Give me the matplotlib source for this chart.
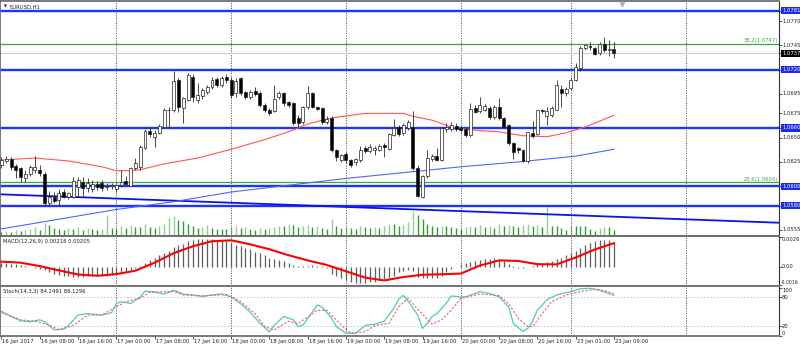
import matplotlib

matplotlib.use("Agg")
import matplotlib.pyplot as plt
import numpy as np
from matplotlib.transforms import blended_transform_factory

plt.rcParams["font.family"] = ["DejaVu Sans"]
FS = 3.8
W, H = 800, 349

# EURUSD H1, 16 Jan 2017 00:00 .. 23 Jan 2017 09:00
opens = [
    1.0622, 1.0626, 1.0628, 1.0621, 1.0619, 1.0608, 1.0613, 1.0617, 1.0617, 1.0613,
    1.0583, 1.0589, 1.0586, 1.0594, 1.0589, 1.0589, 1.0599, 1.0604, 1.0598, 1.0597,
    1.0602, 1.0603, 1.0599, 1.0600, 1.0597, 1.0601, 1.0605, 1.0600, 1.0619, 1.0620,
    1.0639, 1.0657, 1.0651, 1.0655, 1.0661, 1.0678, 1.0678, 1.0709, 1.0681, 1.0689,
    1.0713, 1.0689, 1.0693, 1.0697, 1.0702, 1.0710, 1.0704, 1.0713, 1.0709, 1.0696,
    1.0711, 1.0697, 1.0692, 1.0698, 1.0696, 1.0684, 1.0679, 1.0677, 1.0692, 1.0696,
    1.0687, 1.0686, 1.0670, 1.0666, 1.0682, 1.0696, 1.0682, 1.0681, 1.0666, 1.0670,
    1.0637, 1.0627, 1.0633, 1.0627, 1.0625, 1.0627, 1.0639, 1.0636, 1.0637, 1.0637,
    1.0642, 1.0638, 1.0653, 1.0661, 1.0655, 1.0660, 1.0661, 1.0619, 1.0589, 1.0610,
    1.0628, 1.0631, 1.0627, 1.0659, 1.0659, 1.0662, 1.0660, 1.0659, 1.0653, 1.0681,
    1.0677, 1.0678, 1.0681, 1.0671, 1.0682, 1.0670, 1.0663, 1.0644, 1.0639, 1.0637,
    1.0626, 1.0655, 1.0654, 1.0679, 1.0672, 1.0673, 1.0679, 1.0700, 1.0696, 1.0701,
    1.0709, 1.0722, 1.0742, 1.0744, 1.0742, 1.0737, 1.0747, 1.0740, 1.0741,
]
highs = [
    1.0630, 1.0631, 1.0630, 1.0623, 1.0620, 1.0617, 1.0622, 1.0631, 1.0622, 1.0615,
    1.0595, 1.0594, 1.0597, 1.0597, 1.0594, 1.0609, 1.0609, 1.0609, 1.0608, 1.0606,
    1.0605, 1.0606, 1.0603, 1.0603, 1.0602, 1.0617, 1.0611, 1.0620, 1.0629, 1.0642,
    1.0659, 1.0661, 1.0658, 1.0664, 1.0681, 1.0682, 1.0719, 1.0711, 1.0692, 1.0717,
    1.0716, 1.0706, 1.0701, 1.0704, 1.0712, 1.0712, 1.0714, 1.0716, 1.0712, 1.0711,
    1.0712, 1.0698, 1.0699, 1.0702, 1.0698, 1.0686, 1.0681, 1.0704, 1.0698, 1.0697,
    1.0688, 1.0687, 1.0673, 1.0683, 1.0703, 1.0697, 1.0683, 1.0682, 1.0672, 1.0672,
    1.0638, 1.0633, 1.0635, 1.0628, 1.0629, 1.0641, 1.0641, 1.0643, 1.0641, 1.0643,
    1.0645, 1.0655, 1.0669, 1.0663, 1.0665, 1.0668, 1.0677, 1.0622, 1.0612, 1.0637,
    1.0633, 1.0639, 1.0661, 1.0665, 1.0666, 1.0665, 1.0662, 1.0660, 1.0686, 1.0684,
    1.0692, 1.0685, 1.0683, 1.0684, 1.0691, 1.0671, 1.0664, 1.0646, 1.0640, 1.0638,
    1.0656, 1.0667, 1.0679, 1.0680, 1.0682, 1.0683, 1.0709, 1.0704, 1.0702, 1.0711,
    1.0727, 1.0744, 1.0747, 1.0749, 1.0743, 1.0749, 1.0754, 1.0751, 1.0749,
]
lows = [
    1.0619, 1.0624, 1.0617, 1.0608, 1.0604, 1.0604, 1.0611, 1.0614, 1.0611, 1.0580,
    1.0580, 1.0583, 1.0580, 1.0588, 1.0587, 1.0588, 1.0589, 1.0589, 1.0594, 1.0594,
    1.0596, 1.0595, 1.0596, 1.0597, 1.0594, 1.0599, 1.0602, 1.0600, 1.0617, 1.0617,
    1.0638, 1.0651, 1.0640, 1.0654, 1.0660, 1.0660, 1.0676, 1.0676, 1.0665, 1.0688,
    1.0687, 1.0686, 1.0690, 1.0695, 1.0700, 1.0702, 1.0702, 1.0706, 1.0691, 1.0692,
    1.0694, 1.0690, 1.0690, 1.0693, 1.0682, 1.0676, 1.0673, 1.0676, 1.0690, 1.0683,
    1.0682, 1.0663, 1.0660, 1.0664, 1.0680, 1.0681, 1.0679, 1.0664, 1.0664, 1.0635,
    1.0626, 1.0625, 1.0624, 1.0620, 1.0622, 1.0625, 1.0634, 1.0634, 1.0632, 1.0636,
    1.0630, 1.0637, 1.0652, 1.0652, 1.0653, 1.0658, 1.0617, 1.0589, 1.0588, 1.0608,
    1.0626, 1.0626, 1.0626, 1.0656, 1.0657, 1.0657, 1.0656, 1.0651, 1.0651, 1.0675,
    1.0675, 1.0677, 1.0669, 1.0669, 1.0668, 1.0660, 1.0642, 1.0628, 1.0634, 1.0625,
    1.0624, 1.0650, 1.0653, 1.0675, 1.0663, 1.0671, 1.0678, 1.0682, 1.0693, 1.0699,
    1.0708, 1.0719, 1.0740, 1.0740, 1.0735, 1.0735, 1.0738, 1.0734, 1.0732,
]
closes = [
    1.0627, 1.0628, 1.0620, 1.0617, 1.0609, 1.0613, 1.0620, 1.0620, 1.0614, 1.0583,
    1.0589, 1.0585, 1.0593, 1.0589, 1.0593, 1.0605, 1.0606, 1.0598, 1.0603, 1.0602,
    1.0599, 1.0598, 1.0600, 1.0601, 1.0601, 1.0604, 1.0602, 1.0619, 1.0624, 1.0640,
    1.0657, 1.0654, 1.0655, 1.0662, 1.0678, 1.0679, 1.0708, 1.0682, 1.0691, 1.0715,
    1.0692, 1.0694, 1.0699, 1.0702, 1.0709, 1.0704, 1.0711, 1.0709, 1.0694, 1.0708,
    1.0696, 1.0692, 1.0697, 1.0695, 1.0684, 1.0678, 1.0675, 1.0690, 1.0696, 1.0686,
    1.0684, 1.0665, 1.0665, 1.0682, 1.0696, 1.0682, 1.0680, 1.0666, 1.0669, 1.0637,
    1.0630, 1.0632, 1.0627, 1.0622, 1.0628, 1.0637, 1.0636, 1.0640, 1.0639, 1.0641,
    1.0640, 1.0654, 1.0660, 1.0654, 1.0663, 1.0666, 1.0619, 1.0590, 1.0610, 1.0629,
    1.0631, 1.0627, 1.0660, 1.0661, 1.0663, 1.0659, 1.0658, 1.0653, 1.0680, 1.0676,
    1.0684, 1.0683, 1.0671, 1.0682, 1.0670, 1.0661, 1.0644, 1.0635, 1.0637, 1.0626,
    1.0656, 1.0652, 1.0678, 1.0677, 1.0677, 1.0681, 1.0704, 1.0696, 1.0700, 1.0709,
    1.0723, 1.0742, 1.0745, 1.0743, 1.0736, 1.0747, 1.0740, 1.0741, 1.0737,
]
volumes = [
    240, 300, 240, 360, 300, 360, 420, 540, 360, 780, 660, 480, 420, 360, 480, 420,
    540, 360, 480, 420, 360, 420, 1260, 480,
    420, 600, 480, 660, 540, 540, 720, 540, 480, 600, 720, 1080, 1200, 960, 900, 720,
    600, 480, 540, 660, 480, 420, 420, 420,
    540, 600, 480, 540, 420, 360, 480, 420, 480, 540, 600, 600, 720, 660, 540, 600,
    660, 540, 600, 480, 420, 1020, 600, 480,
    540, 480, 420, 600, 540, 480, 540, 480, 600, 720, 720, 600, 660, 840, 1500, 1260,
    1020, 720, 600, 540, 600, 600, 540, 480,
    420, 540, 600, 540, 660, 540, 600, 480, 720, 600, 660, 600, 540, 660, 720, 600,
    660, 540, 1740, 600, 600, 480, 360,
    600, 600, 600, 600, 420, 300, 480, 540, 540, 360,
]

# moving averages on price (vertices at bar index)
ma_red_bars = [0, 7, 14, 21, 24, 27, 29, 34, 41, 48, 55, 60, 64, 67, 70, 76, 84, 86,
               90, 94, 98, 104, 109, 114, 118, 122, 128]
ma_red = [1.0627, 1.0629, 1.0626, 1.0620, 1.0616, 1.0616, 1.0617, 1.0623, 1.0629,
          1.0638, 1.0648, 1.0656, 1.0664, 1.0668, 1.0671, 1.0675, 1.0675, 1.0672,
          1.0668, 1.0661, 1.0658, 1.0656, 1.0652, 1.0651, 1.0655, 1.0661, 1.0673]
ma_blue_bars = [0, 12, 24, 36, 48, 60, 72, 84, 96, 108, 120, 128]
ma_blue = [1.0556, 1.0566, 1.0576, 1.0584, 1.0594, 1.0601, 1.0608, 1.0614, 1.0620,
           1.0625, 1.0631, 1.0638]

# drawn objects
levels = [1.0781, 1.0720, 1.0660, 1.0600, 1.0580]
fib_levels = [1.0747, 1.0604]
fib_names = ["38.2", "23.6"]
bid = 1.0737
trend_bars = [0, 160]
trend_prices = [1.05916, 1.05628]
price_ticks = [1.0770, 1.0745, 1.0695, 1.0675, 1.0650, 1.0625, 1.0555]

macd_hist = [
    0.0003, 0.00028, 0.00025, 0.0002, 0.00012, 0.00005, -0.00002, -0.0001,
    -0.0002, -0.0003, -0.00045, -0.0006, -0.0007, -0.0008, -0.00085,
    -0.0009, -0.0009, -0.00088, -0.00085, -0.00085, -0.00083, -0.0008, -0.00078, -0.0007,
    -0.0006, -0.0005, -0.0004, -0.0003, -0.00015, 0.00005,
    0.0003, 0.0006, 0.0008, 0.0010, 0.0012, 0.0014, 0.0017, 0.0019, 0.0020, 0.0022,
    0.0023, 0.0024, 0.0024, 0.0024, 0.0024, 0.0023, 0.0023, 0.0022,
    0.0021, 0.0019, 0.0018, 0.0016, 0.0015, 0.0013, 0.0012, 0.0010, 0.0008, 0.0007,
    0.0006, 0.0005, 0.0003, 0.00015,
    0.0001, 0.0001, 0.0001, 0.00012, 0.0001, 0.00005, -0.0001,
    -0.0006, -0.0008, -0.001, -0.0012, -0.0013, -0.0014, -0.0014, -0.0014, -0.0013,
    -0.0013, -0.0012, -0.0011, -0.001, -0.0008, -0.0005,
    -0.0004, -0.0003, -0.0004,
    -0.0009, -0.001, -0.001, -0.001, -0.001, -0.0008, -0.0005, -0.0002, 0.0,
    0.0002, 0.0003, 0.0004, 0.0005, 0.0006, 0.0007, 0.0007, 0.0008, 0.0007, 0.0005,
    0.0002, 0.0001, -0.0001, -0.0001, 0.0, 0.0001, 0.0002,
    0.0003, 0.0004, 0.0005, 0.0007, 0.0008, 0.0010, 0.0012, 0.0014, 0.0016, 0.0019,
    0.0021, 0.0022, 0.0023, 0.0023, 0.0023, 0.00218,
]
macd_sig_bars = list(range(0, 129, 4))
macd_sig = [0.00044, 0.00035, 0.00005, -0.00032, -0.00068, -0.00079, -0.00065,
            -0.00035, 0.00035, 0.00118, 0.00178, 0.00222, 0.0023, 0.00195, 0.00152,
            0.001, 0.00055, 0.00015, -0.0004, -0.00095, -0.0012, -0.0009, -0.0007,
            -0.00066, -0.0006, 0.0001, 0.00055, 0.0005, 0.00022, 0.0002, 0.0008,
            0.0015, 0.00205]

stoch_k_bars = [0, 2, 4, 6, 8, 9, 11, 13, 14, 16, 18, 21, 23, 24, 25, 27, 29, 30, 32,
                34, 36, 38, 40, 42, 44, 46, 48, 50, 52, 54, 56, 57, 59, 61, 62, 63,
                64, 66, 67, 69, 70, 72, 74, 76, 78, 80, 82, 83, 84, 85, 87, 88, 89,
                90, 91, 93, 94, 96, 97, 100, 102, 104, 106, 107, 109, 110, 111, 112,
                114, 116, 119, 121, 123, 125, 128]
stoch_k = [51, 40, 31, 29, 33, 29, 12, 14, 21, 43, 46, 43, 48, 67, 71, 67, 81, 93, 91,
           87, 95, 87, 85, 82, 85, 87, 81, 67, 49, 26, 8, 22, 40, 33, 19, 22, 36, 64,
           60, 36, 19, 5, 5, 21, 24, 30, 57, 76, 84, 72, 43, 15, 26, 40, 46, 68, 83,
           81, 81, 92, 88, 81, 60, 25, 9, 15, 30, 53, 75, 85, 92, 98, 99, 95, 84.2491]
stoch_d_bars = [0, 4, 7, 10, 12, 15, 18, 21, 23, 26, 29, 31, 36, 38, 42, 47, 50, 53,
                55, 57, 60, 62, 66, 68, 71, 73, 76, 78, 81, 83, 85, 87, 90, 92, 94,
                96, 100, 104, 106, 108, 110, 111, 113, 115, 118, 121, 124, 126, 128]
stoch_d = [48, 33, 30, 22, 12, 21, 43, 43, 55, 71, 78, 91, 92, 85, 83, 86, 71, 46, 19,
           12, 30, 25, 53, 53, 22, 5, 8, 21, 26, 60, 78, 55, 24, 33, 53, 78, 87, 84,
           67, 36, 19, 19, 46, 71, 85, 92, 97, 94, 88.1296]

time_bars = list(range(0, 129, 8))
time_labels = ["16 Jan 2017", "16 Jan 08:00", "16 Jan 16:00", "17 Jan 00:00",
               "17 Jan 08:00", "17 Jan 16:00", "18 Jan 00:00", "18 Jan 08:00",
               "18 Jan 16:00", "19 Jan 00:00", "19 Jan 08:00", "19 Jan 16:00",
               "20 Jan 00:00", "20 Jan 08:00", "20 Jan 16:00", "23 Jan 01:00",
               "23 Jan 09:00"]
day_bars = [24, 48, 72, 96, 119, 143]

BLUE = "#1f33ff"
GREEN = "#3daa3d"
FRAME = "#6e6e6e"
XMIN, XMAX = -0.305, 162.5
PLOT_W = 779 / W


def rect(top_px, bottom_px):
    return [0.0, 1 - bottom_px / H, PLOT_W, (bottom_px - top_px) / H]


def style_axes(ax):
    ax.set_xlim(XMIN, XMAX)
    ax.set_xticks([])
    for side in ("left", "top", "bottom"):
        ax.spines[side].set_color(FRAME)
        ax.spines[side].set_linewidth(1.3)
    ax.spines["right"].set_color("#333333")
    ax.spines["right"].set_linewidth(0.8)
    for b in day_bars:
        ax.axvline(b, color="#4a4a4a", lw=0.6, ls=(0, (1.5, 1.5)), zorder=1)


def right_label(ax, value, text, box=None, va="center", size=FS, left=782):
    tr = blended_transform_factory(fig.transFigure, ax.transData)
    kw = dict(transform=tr, fontsize=size, va=va, ha="left", clip_on=False,
              color="#222222")
    if box is not None:
        kw["color"] = "white"
        kw["bbox"] = dict(boxstyle="square,pad=0.22", fc=box, ec="none")
    ax.text(left / W, value, text, **kw)


fig = plt.figure(figsize=(W / 100, H / 100), dpi=100)
fig.patch.set_facecolor("white")

# ---- price panel
ax = fig.add_axes(rect(1, 235.5))
vax = ax.twinx()
ax.set_zorder(2)
vax.set_zorder(1)
ax.patch.set_visible(False)
vax.set_ylim(0, 234.5 * 60)
vax.set_axis_off()
x = np.arange(len(closes))
vcolors = ["#92cf92" if i > 0 and volumes[i] > volumes[i - 1] else "#2f9a2f"
           for i in range(len(volumes))]
vax.vlines(x, 0, volumes, colors=vcolors, lw=1.0)
vax.set_xlim(XMIN, XMAX)

style_axes(ax)
ax.set_ylim(1.05492, 1.07908)
ax.yaxis.tick_right()
ax.set_yticks(price_ticks + levels + [bid])
ax.set_yticklabels([])
ax.tick_params(axis="y", length=2, width=0.6, color="#333333")

for lv in levels:
    ax.axhline(lv, color=BLUE, lw=1.7, zorder=2)
for lv in fib_levels:
    ax.axhline(lv, color=GREEN, lw=0.9, zorder=2)
ax.axhline(bid, color="#cccccc", lw=0.8, zorder=1.5)
ax.axline((trend_bars[0], trend_prices[0]), (trend_bars[1], trend_prices[1]),
          color="#0a14e6", lw=1.3, zorder=2)
ax.plot(ma_red_bars, ma_red, color="#ff5555", lw=0.8, zorder=2.5)
ax.plot(ma_blue_bars, ma_blue, color="#5064ff", lw=0.8, zorder=2.5)

o = np.array(opens)
c = np.array(closes)
ax.vlines(x, lows, highs, color="#2a2a2a", lw=0.6, zorder=3)
bottoms = np.minimum(o, c)
heights = np.maximum(np.abs(c - o), 0.00003)
fills = ["white" if cc >= oo else "black" for oo, cc in zip(opens, closes)]
ax.bar(x, heights, bottom=bottoms, width=0.62, color=fills, edgecolor="#222222",
       linewidth=0.5, zorder=4)

for lv, name in zip(fib_levels, fib_names):
    ax.text(0.9985, lv + 0.00004, f"{name}({lv:.4f})", color=GREEN, fontsize=FS,
            ha="right", va="bottom", transform=blended_transform_factory(
                ax.transAxes, ax.transData))
for p in price_ticks:
    right_label(ax, p, f"{p:.4f}")
for lv in levels:
    right_label(ax, lv, f"{lv:.4f}", box="#1a2cf0")
right_label(ax, bid, f"{bid:.4f}", box="black")

ax.text(5 / 779, 1 - 5 / 234.5, "\u25bc", transform=ax.transAxes, fontsize=2.8,
        va="center", ha="center", color="#222222")
ax.text(10 / 779, 1 - 6 / 234.5, "EURUSD,H1", transform=ax.transAxes, fontsize=FS,
        va="center", ha="left", color="#222222")
ax.plot([622 / 779], [1 - 3 / 234.5], marker="v", ms=3, color="#b0b0b0",
        transform=ax.transAxes, clip_on=False, zorder=6)

# ---- MACD panel
ax2 = fig.add_axes(rect(235.5, 285.5))
style_axes(ax2)
ax2.set_ylim(-0.00164, 0.00272)
ax2.set_yticks([0.0026, 0.0, -0.0016])
ax2.yaxis.tick_right()
ax2.set_yticklabels([])
ax2.tick_params(axis="y", length=2, width=0.6, color="#333333")
ax2.vlines(x, 0, macd_hist, color="#5e5e5e", lw=0.9, zorder=2)
ax2.plot(macd_sig_bars, macd_sig, color="#ff0000", lw=1.5, zorder=3)
ax2.text(3 / 779, 0.93, "MACD(12,26,9) 0.00218 0.00205", transform=ax2.transAxes,
         fontsize=FS, va="top", ha="left", color="#222222")
right_label(ax2, 0.0026, "0.0026", va="top")
right_label(ax2, 0.0, "0.00")
right_label(ax2, -0.0016, "-0.0016", va="bottom", size=3.3, left=780.5)

# ---- Stochastic panel
ax3 = fig.add_axes(rect(285.5, 336))
style_axes(ax3)
ax3.set_ylim(-0.8, 104.8)
ax3.set_yticks([100, 80, 20, 0])
ax3.yaxis.tick_right()
ax3.set_yticklabels([])
ax3.tick_params(axis="y", length=2, width=0.6, color="#333333")
for lv in (80, 20):
    ax3.axhline(lv, color="#c4c4c4", lw=0.6, ls=(0, (2, 2)), zorder=1)
ax3.plot(stoch_k_bars, stoch_k, color="#48cbc4", lw=0.9, zorder=3)
ax3.plot(stoch_d_bars, stoch_d, color="#ff5a5a", lw=0.8, ls=(0, (2, 1.5)), zorder=3)
ax3.text(3 / 779, 0.93, "Stoch(14,3,3) 84.2491 88.1296", transform=ax3.transAxes,
         fontsize=FS, va="top", ha="left", color="#222222")
right_label(ax3, 100, "100", va="top")
right_label(ax3, 80, "80")
right_label(ax3, 20, "20")
right_label(ax3, 0, "0", va="bottom")

# time axis
ax3.set_xticks(time_bars)
ax3.set_xticklabels([])
ax3.tick_params(axis="x", length=2, width=0.6, color="#333333")
xtr = blended_transform_factory(ax3.transData, fig.transFigure)
for b, lab in zip(time_bars, time_labels):
    ax3.text(b + 0.2, 1 - 342 / H, lab, transform=xtr, fontsize=FS, ha="left",
             va="center", color="#222222", clip_on=False)

fig.savefig("out.png", dpi=100)
